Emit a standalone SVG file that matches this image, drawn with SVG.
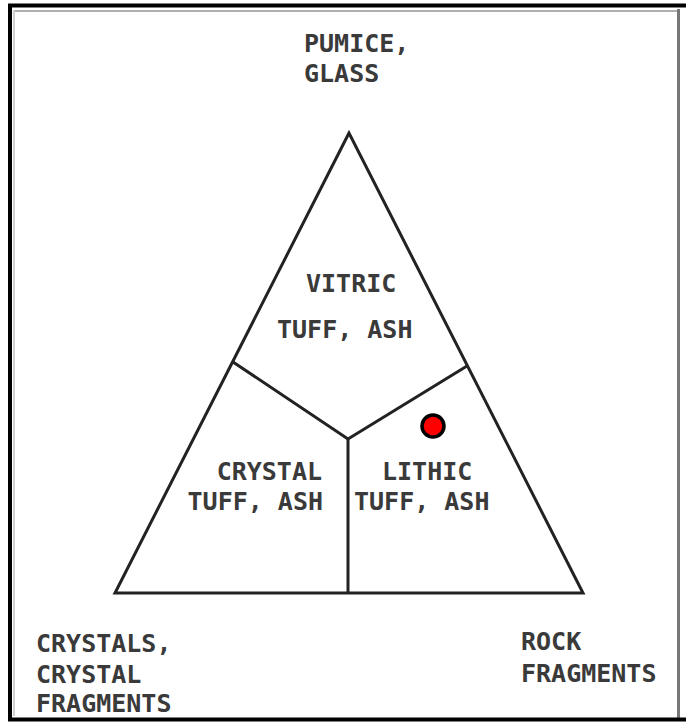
<svg xmlns="http://www.w3.org/2000/svg" width="686" height="723" viewBox="0 0 686 723">
<style>
.t{font-family:"DejaVu Sans Mono","Liberation Mono",monospace;font-size:25px;font-weight:bold;fill:#3a3a3a}
.ln{fill:none;stroke:#222;stroke-width:3;stroke-linejoin:miter}
</style>
<rect width="686" height="723" fill="#fff"/>
<g id="frame">
<line x1="13.5" y1="11" x2="678" y2="11" stroke="#b0b0b0" stroke-width="2"/>
<line x1="14" y1="10" x2="14" y2="716" stroke="#d0d0d0" stroke-width="2"/>
<line x1="678.5" y1="9" x2="678.5" y2="718" stroke="#777" stroke-width="3"/>
<line x1="8" y1="5.5" x2="686" y2="5.5" stroke="#000" stroke-width="4"/>
<line x1="10" y1="4" x2="10" y2="721" stroke="#000" stroke-width="4"/>
<line x1="8" y1="719.5" x2="686" y2="719.5" stroke="#000" stroke-width="4"/>
</g>
<g id="connectors">
<polygon class="ln" points="349,133 115,593 583,593"/>
<polyline class="ln" points="233,362 348,439 467,366"/>
<line class="ln" x1="348" y1="439" x2="348" y2="593"/>
</g>
<g id="apex-label"><text class="t" x="304" y="52" font-size="24">PUMICE,</text><text class="t" x="304" y="82" font-size="24">GLASS</text></g>
<g id="vitric"><text class="t" x="306" y="292">VITRIC</text><text class="t" x="277" y="338">TUFF, ASH</text></g>
<g id="crystal"><text class="t" x="322" y="480" text-anchor="end">CRYSTAL</text><text class="t" x="323" y="510" text-anchor="end">TUFF, ASH</text></g>
<g id="lithic"><text class="t" x="382" y="480">LITHIC</text><text class="t" x="354" y="510">TUFF, ASH</text></g>
<g id="left-label"><text class="t" x="36" y="652">CRYSTALS,</text><text class="t" x="36" y="683">CRYSTAL</text><text class="t" x="36" y="712">FRAGMENTS</text></g>
<g id="right-label"><text class="t" x="521" y="650">ROCK</text><text class="t" x="521" y="682">FRAGMENTS</text></g>
<g id="point"><circle cx="433" cy="426" r="11" fill="#f00" stroke="#000" stroke-width="3.5"/></g>
</svg>
